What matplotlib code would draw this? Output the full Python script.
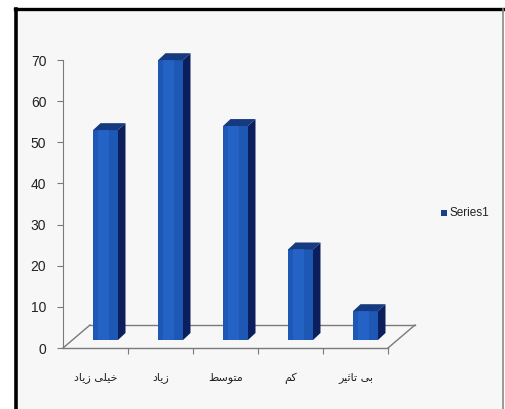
import matplotlib
matplotlib.use("Agg")
import matplotlib.pyplot as plt
from matplotlib.patches import Polygon, Rectangle
import numpy as np

# ---- data ----
categories = ["خیلی زیاد", "زیاد", "متوسط", "کم", "بی تاثیر"]
values = [51, 68, 52, 22, 7]
yticks = [0, 10, 20, 30, 40, 50, 60, 70]
series_name = "Series1"

# ---- minimal Persian shaping (presentation forms, visual order) ----
FORMS = {
    'ا': (0xFE8D, 0xFE8E, None, None),
    'ب': (0xFE8F, 0xFE90, 0xFE91, 0xFE92),
    'ت': (0xFE95, 0xFE96, 0xFE97, 0xFE98),
    'ث': (0xFE99, 0xFE9A, 0xFE9B, 0xFE9C),
    'خ': (0xFEA5, 0xFEA6, 0xFEA7, 0xFEA8),
    'د': (0xFEA9, 0xFEAA, None, None),
    'ر': (0xFEAD, 0xFEAE, None, None),
    'ز': (0xFEAF, 0xFEB0, None, None),
    'س': (0xFEB1, 0xFEB2, 0xFEB3, 0xFEB4),
    'ط': (0xFEC1, 0xFEC2, 0xFEC3, 0xFEC4),
    'ل': (0xFEDD, 0xFEDE, 0xFEDF, 0xFEE0),
    'م': (0xFEE1, 0xFEE2, 0xFEE3, 0xFEE4),
    'و': (0xFEED, 0xFEEE, None, None),
    'ک': (0xFB8E, 0xFB8F, 0xFB90, 0xFB91),
    'ی': (0xFBFC, 0xFBFD, 0xFBFE, 0xFBFF),
}


def shape(s):
    out = []
    n = len(s)
    for i, ch in enumerate(s):
        if ch not in FORMS:
            out.append(ch)
            continue
        prev = s[i - 1] if i > 0 else None
        nxt = s[i + 1] if i < n - 1 else None
        join_prev = prev in FORMS and FORMS[prev][2] is not None
        join_next = nxt in FORMS and FORMS[ch][2] is not None
        iso, fin, ini, med = FORMS[ch]
        if join_prev and join_next:
            cp = med
        elif join_prev:
            cp = fin
        elif join_next:
            cp = ini
        else:
            cp = iso
        out.append(chr(cp))
    return "".join(reversed(out))


numfont = "Liberation Sans"

# ---- figure ----
W, H = 505, 409
fig = plt.figure(figsize=(W / 100, H / 100), dpi=100)
fig.patch.set_facecolor("white")

# chart area background and border
bg = Rectangle((15 / W, -0.02), (503 - 15) / W, (409 - 9) / H + 0.02,
               transform=fig.transFigure, facecolor="#f7f7f7",
               edgecolor="none", zorder=0)
fig.patches.append(bg)
fig.add_artist(plt.Line2D([16 / W, 16 / W], [0, 1 - 9 / H], color="black",
                          lw=2.6, transform=fig.transFigure, zorder=0.5))
fig.add_artist(plt.Line2D([15 / W, 1], [1 - 9 / H, 1 - 9 / H], color="black",
                          lw=2.4, transform=fig.transFigure, zorder=0.5))
fig.add_artist(plt.Line2D([503 / W, 503 / W], [0, 1 - 9 / H], color="#888888",
                          lw=1.2, transform=fig.transFigure, zorder=0.5))

# axes geometry
ax_left, ax_right = 63, 410
ax_top, ax_bot = 60, 348
ax = fig.add_axes([ax_left / W, (H - ax_bot) / H,
                   (ax_right - ax_left) / W, (ax_bot - ax_top) / H])
ax.set_zorder(2)
ax.set_facecolor("none")

px_per_cat = 65.0
xmin = -0.5
xmax = xmin + (ax_right - ax_left) / px_per_cat
ax.set_xlim(xmin, xmax)
ax.set_ylim(0, 70)
px_per_unit = (ax_bot - ax_top) / 70.0

# floor depth
fdx = 27 / px_per_cat
fdy = 23 / px_per_unit
n = len(categories)
floor_col = "#7a7a7a"
ax.plot([xmin, xmin + n], [0, 0], color=floor_col, lw=1.0, clip_on=False)
ax.plot([xmin + fdx, xmin + n + fdx], [fdy, fdy], color=floor_col, lw=1.0, clip_on=False)
ax.plot([xmin, xmin + fdx], [0, fdy], color=floor_col, lw=1.0, clip_on=False)
ax.plot([xmin + n, xmin + n + fdx], [0, fdy], color=floor_col, lw=1.0, clip_on=False)

# bars
bw = 25 / px_per_cat
bshift = 10 / px_per_cat
b0 = 8 / px_per_unit
ddx = 7.5 / px_per_cat
ddy = 7 / px_per_unit
xs = np.arange(n)
front_col = "#1e58b5"
side_col = "#0c1f5c"
top_col = "#153a80"
for x, v in zip(xs, values):
    xl = x + bshift - bw / 2
    xr = xl + bw
    ax.bar(xl, v, width=bw, bottom=b0, align="edge", color=front_col,
           edgecolor="none", zorder=3, clip_on=False)
    # subtle highlight on front face
    ax.bar(xl + bw * 0.2, v, width=bw * 0.45, bottom=b0, align="edge",
           color="#2a6ad0", edgecolor="none", zorder=3.1, alpha=0.6,
           clip_on=False)
    ax.add_patch(Polygon([(xr, b0), (xr + ddx, b0 + ddy),
                          (xr + ddx, b0 + v + ddy), (xr, b0 + v)],
                         closed=True, facecolor=side_col, edgecolor="none",
                         zorder=3, clip_on=False))
    ax.add_patch(Polygon([(xl, b0 + v), (xr, b0 + v), (xr + ddx, b0 + v + ddy),
                          (xl + ddx, b0 + v + ddy)],
                         closed=True, facecolor=top_col, edgecolor="none",
                         zorder=3, clip_on=False))

# axes styling
for s in ["top", "right", "bottom"]:
    ax.spines[s].set_visible(False)
ax.spines["left"].set_color("#7a7a7a")
ax.spines["left"].set_bounds(0, 70)
ax.set_yticks(yticks)
ax.set_yticklabels([str(t) for t in yticks], fontsize=10, color="#222222",
                   fontfamily=numfont)
ax.tick_params(axis="y", length=4, color="#7a7a7a", pad=8)

# x ticks: marks between categories, labels at centers
ax.set_xticks(np.arange(0.5, n + 0.5, 1.0))
ax.set_xticklabels([])
ax.tick_params(axis="x", length=4, color="#7a7a7a", direction="out")
for x, c in zip(xs, categories):
    ax.text(x, -30 / px_per_unit, shape(c), ha="center", va="center",
            fontsize=8, color="#222222", fontfamily="DejaVu Sans",
            clip_on=False)

# legend
fig.add_artist(Rectangle((441 / W, 1 - 216 / H), 6 / W, 6 / H,
                         transform=fig.transFigure, facecolor="#1a3f8f",
                         edgecolor="none", zorder=3))
fig.text(449 / W, 1 - 213 / H, series_name, fontsize=8.5, color="#222222",
         va="center", ha="left", fontfamily=numfont, zorder=3)

fig.savefig("out.png", dpi=100, facecolor="white")
